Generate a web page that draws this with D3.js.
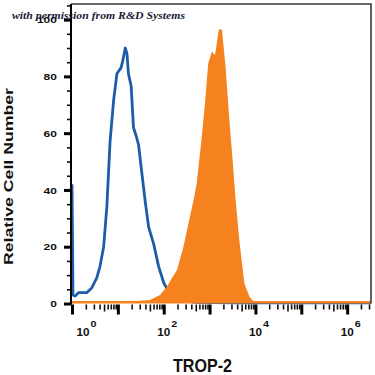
<!DOCTYPE html>
<html>
<head>
<meta charset="utf-8">
<script src="https://cdn.jsdelivr.net/npm/d3@7"></script>
<style>
  html, body { margin: 0; padding: 0; background: #fff; }
  svg { display: block; }
  text { font-family: "Liberation Sans", Arial, sans-serif; font-weight: bold; fill: #111; }
</style>
</head>
<body>
<svg id="canvas" width="375" height="375"></svg>
<script>
// isotype control (blue outline): fluorescence intensity, relative count
var isoIntensity = [1, 1.05, 1.17, 1.38, 2.09, 2.69, 3.47, 4.07, 4.9, 5.75, 6.76, 8.13, 9.55, 11, 11.7, 12.6,
  14.5, 15.8, 17, 19.5, 21.9, 25.1, 28.2, 33.9, 39.8, 46.8, 60.3, 77.6, 100, 115, 158, 251, 501, 3162, 3.3e6];
var isoCount = [42, 3, 2.6, 3.8, 3.8, 5.5, 9, 13, 20, 34, 57, 72, 81, 82.4, 83, 85,
  90, 88, 81, 76.5, 62, 59, 56, 45, 35.5, 27, 21, 13, 7.3, 5.5, 2.5, 1, 0.4, 0.2, 0.2];

// TROP-2 stained cells (orange filled)
var tropIntensity = [1, 26, 50, 83, 117, 151, 195, 269, 347, 447, 525, 676, 794, 933, 1122, 1318,
  1585, 1862, 2239, 2630, 3162, 3715, 4467, 5754, 7413, 8913, 3.3e6];
var tropCount = [0.9, 0.9, 1.2, 3, 5.9, 9, 11.8, 20, 28.3, 36.4, 42.4, 58.7, 70.5, 84.5, 88.7, 87.5,
  96.5, 96.5, 83, 67, 51, 36, 22, 7, 2.4, 0.9, 0.9];

var yTicks = [0, 20, 40, 60, 80, 100];
var xDecades = [0, 1, 2, 3, 4, 5, 6];
var xLabelDecades = [0, 2, 4, 6];

var svg = d3.select('#canvas');

var x = d3.scaleLog().domain([1, Math.pow(10, 6.52)]).range([72, 371]);
var y = d3.scaleLinear().domain([0, 105.5]).range([303.5, 4]);

// blue isotype line
var isoData = isoIntensity.map(function (v, i) { return [v, isoCount[i]]; });
svg.append('path')
  .datum(isoData)
  .attr('fill', 'none')
  .attr('stroke', '#1d5ca6')
  .attr('stroke-width', 2.8)
  .attr('stroke-linejoin', 'round')
  .attr('d', d3.line().x(function (d) { return x(d[0]); }).y(function (d) { return y(d[1]); }));

// orange filled histogram
var tropData = tropIntensity.map(function (v, i) { return [v, tropCount[i]]; });
svg.append('path')
  .datum(tropData)
  .attr('fill', '#f5821f')
  .attr('d', d3.area().x(function (d) { return x(d[0]); }).y0(y(0)).y1(function (d) { return y(d[1]); }));

// frame top / right
svg.append('path')
  .attr('d', 'M' + 71 + ',' + y(105.5) + 'H' + x.range()[1] + 'V' + y(0))
  .attr('fill', 'none').attr('stroke', '#3a3a3a').attr('stroke-width', 1.6);

// y axis
var minorY = d3.range(0, 106, 5).filter(function (v) { return v % 20 !== 0; });
var gyMinor = svg.append('g').attr('transform', 'translate(71,0)')
  .call(d3.axisLeft(y).tickValues(minorY).tickSize(4).tickFormat(''));
gyMinor.selectAll('line').attr('stroke', '#111').attr('stroke-width', 1.6);
var gy = svg.append('g').attr('transform', 'translate(71,0)')
  .call(d3.axisLeft(y).tickValues(yTicks).tickSize(7).tickFormat(''));
gy.selectAll('line').attr('stroke', '#000').attr('stroke-width', 3);
svg.selectAll('.domain').remove();
svg.append('line').attr('x1', 71).attr('x2', 71).attr('y1', y(105.5)).attr('y2', y(0) + 1)
  .attr('stroke', '#000').attr('stroke-width', 2);

svg.append('g').selectAll('text')
  .data(yTicks).enter().append('text')
  .attr('x', 57)
  .attr('y', function (d) { return y(d) + 3.6; })
  .attr('text-anchor', 'end')
  .attr('font-size', 9.5)
  .attr('textLength', function (d) { return String(d).length * 6.7; })
  .attr('lengthAdjust', 'spacingAndGlyphs')
  .text(function (d) { return d; });

// x axis
var minorX = [];
xDecades.forEach(function (e) {
  d3.range(2, 10).forEach(function (m) {
    var v = m * Math.pow(10, e);
    if (v < x.domain()[1]) minorX.push(v);
  });
});
var gxMinor = svg.append('g').attr('transform', 'translate(0,' + (y(0) + 1) + ')')
  .call(d3.axisBottom(x).tickValues(minorX).tickSizeOuter(0).tickFormat(''));
gxMinor.selectAll('.tick line')
  .attr('y2', function (d) { return Math.round(d / Math.pow(10, Math.floor(Math.log10(d) + 1e-9))) === 5 ? 7 : 5; })
  .attr('stroke', '#111').attr('stroke-width', 1.6);
var gx = svg.append('g').attr('transform', 'translate(0,' + (y(0) + 1) + ')')
  .call(d3.axisBottom(x).tickValues(xDecades.map(function (e) { return Math.pow(10, e); }))
    .tickSize(10).tickSizeOuter(0).tickFormat(''));
gx.selectAll('.tick line').attr('stroke', '#000').attr('stroke-width', 3);
svg.selectAll('.domain').remove();

var xl = svg.append('g').selectAll('g')
  .data(xLabelDecades).enter().append('g')
  .attr('transform', function (e) { return 'translate(' + (x(Math.pow(10, e)) + (e === 0 ? 11 : 0)) + ',336)'; });
xl.append('text')
  .attr('text-anchor', 'middle')
  .attr('font-size', 11)
  .attr('textLength', 13)
  .attr('lengthAdjust', 'spacingAndGlyphs')
  .text('10');
xl.append('text')
  .attr('x', 7.5)
  .attr('y', -9)
  .attr('font-size', 9.5)
  .attr('textLength', 6)
  .attr('lengthAdjust', 'spacingAndGlyphs')
  .text(function (e) { return e; });

// axis titles
svg.append('text')
  .attr('transform', 'translate(13,176.5) rotate(-90)')
  .attr('text-anchor', 'middle')
  .attr('font-size', 12.2)
  .attr('textLength', 177)
  .attr('lengthAdjust', 'spacingAndGlyphs')
  .text('Relative Cell Number');

svg.append('text')
  .attr('x', 202.5)
  .attr('y', 372)
  .attr('text-anchor', 'middle')
  .attr('font-size', 18)
  .attr('textLength', 59)
  .attr('lengthAdjust', 'spacingAndGlyphs')
  .text('TROP-2');

// watermark (sits over the "100" label, as in the reference)
svg.append('text')
  .attr('x', 12)
  .attr('y', 19)
  .attr('font-size', 11)
  .attr('font-weight', 'normal')
  .attr('font-style', 'italic')
  .style('font-family', '"Liberation Serif", "DejaVu Serif", serif')
  .style('fill', '#1a1a33')
  .attr('textLength', 173)
  .attr('lengthAdjust', 'spacingAndGlyphs')
  .text('with permission from R&D Systems');
</script>
</body>
</html>
